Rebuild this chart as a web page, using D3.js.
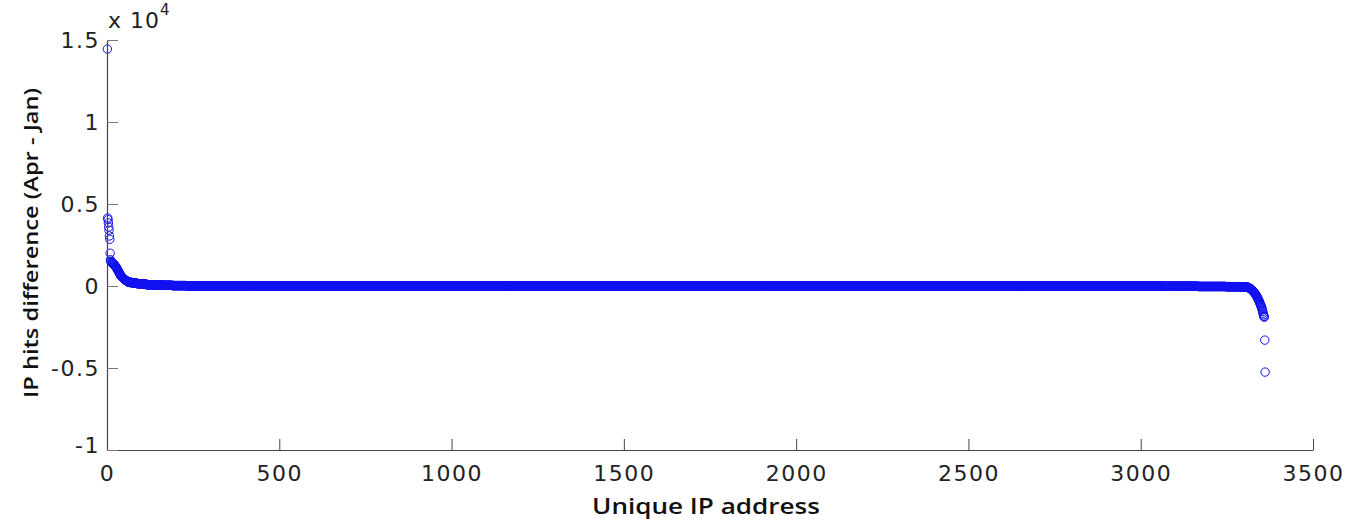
<!DOCTYPE html>
<html>
<head>
<meta charset="utf-8">
<script src="https://cdn.jsdelivr.net/npm/d3@7"></script>
<style>
  html, body { margin: 0; padding: 0; background: #fff; }
  svg { display: block; }
  .tick text { font-family: "DejaVu Sans", sans-serif; }
</style>
</head>
<body>
<svg id="chart" width="1363" height="528"></svg>
<script>
// ---- data ----
// first points, sorted descending (hits difference)
const headValues = [
  14450, 4150, 4050, 3850, 3600, 3400, 3050, 2850, 2000, 1600,
  1500, 1480, 1460, 1440, 1420, 1400, 1380, 1360, 1340, 1320,
  1300, 1280, 1250, 1220, 1190, 1160, 1130, 1100, 1060, 1020,
  980, 940, 900, 860, 820, 780, 740, 700, 670, 640,
  610, 580, 560, 540, 520, 500, 480, 460, 440, 420,
  400, 385, 370, 355, 340, 325, 310, 295, 280, 265, 250
];
// long flat middle part, as [value, number of IPs]
const midRuns = [
  [230, 8], [200, 8], [170, 10], [140, 12], [110, 15], [80, 20],
  [60, 25], [40, 30], [25, 40], [10, 100], [5, 200], [0, 1637],
  [-5, 600], [-10, 300], [-20, 100], [-30, 80], [-40, 40], [-50, 20]
];
// last points, sorted descending
const tailValues = [
  -60, -65, -70, -75, -80, -90, -100, -110, -120, -130,
  -145, -160, -180, -200, -220, -240, -260, -280, -300, -320,
  -340, -360, -385, -410, -440, -470, -500, -530, -560, -600,
  -640, -680, -720, -760, -800, -850, -900, -950, -1000, -1050,
  -1100, -1150, -1200, -1260, -1320, -1400, -1460, -1550, -1650, -1750,
  -1830, -1870, -1900, -3300, -5250
];
const xTicks = [0, 500, 1000, 1500, 2000, 2500, 3000, 3500];
const yTicks = [-10000, -5000, 0, 5000, 10000, 15000];
const yTickLabels = ["-1", "-0.5", "0", "0.5", "1", "1.5"];
const xLabel = "Unique IP address";
const yLabel = "IP hits difference (Apr - Jan)";

// assemble series
const values = headValues.slice();
midRuns.forEach(([v, n]) => { for (let k = 0; k < n; k++) values.push(v); });
tailValues.forEach(v => values.push(v));
const points = values.map((v, i) => ({ x: i + 1, y: v }));

// ---- drawing ----
const svg = d3.select("#chart");
const x = d3.scaleLinear().domain([0, 3500]).range([107, 1313]);
const y = d3.scaleLinear().domain([-10000, 15000]).range([450, 40]);

// points
svg.append("g")
  .selectAll("circle")
  .data(points)
  .enter().append("circle")
  .attr("cx", d => x(d.x))
  .attr("cy", d => y(d.y))
  .attr("r", 4.2)
  .attr("fill", "none")
  .attr("stroke", "#1010f0")
  .attr("stroke-width", 1);

// x axis
const xAxis = d3.axisBottom(x).tickValues(xTicks).tickSizeInner(-11).tickSizeOuter(0).tickPadding(15)
  .tickFormat(d3.format("d"));
const gx = svg.append("g").attr("transform", "translate(0,450)").call(xAxis);
gx.select(".domain").attr("stroke", "#444").attr("stroke-width", 1.2);
gx.selectAll(".tick line").attr("stroke", "#444");
gx.selectAll(".tick text").attr("font-size", 22).attr("fill", "#222")
  .attr("letter-spacing", 1.5).attr("dy", "0.71em");

// y axis
const yAxis = d3.axisLeft(y).tickValues(yTicks).tickSizeInner(-11).tickSizeOuter(0).tickPadding(7)
  .tickFormat((d, i) => yTickLabels[i]);
const gy = svg.append("g").attr("transform", "translate(107,0)").call(yAxis);
gy.select(".domain").attr("stroke", "#444").attr("stroke-width", 1.2);
gy.selectAll(".tick line").attr("stroke", "#777");
gy.selectAll(".tick text").attr("font-size", 22).attr("fill", "#222").attr("letter-spacing", 1.5);
// -1 label sits slightly higher like the reference
gy.selectAll(".tick text").filter((d) => d === -10000).attr("dy", "0.1em");

// exponent
const ex = svg.append("text").attr("x", 108).attr("y", 28)
  .attr("font-family", "DejaVu Sans, sans-serif").attr("font-size", 22).attr("fill", "#222")
  .attr("letter-spacing", 1);
ex.append("tspan").text("x 10");
ex.append("tspan").attr("dy", -13).attr("font-size", 15).text("4");

// axis labels
svg.append("text").attr("x", 706).attr("y", 514).attr("text-anchor", "middle")
  .attr("font-family", "Open Sans, sans-serif").attr("font-weight", 600).attr("font-size", 21)
  .attr("fill", "#111").attr("textLength", 228).attr("lengthAdjust", "spacingAndGlyphs")
  .text(xLabel);
svg.append("text").attr("transform", "translate(38,243) rotate(-90)").attr("text-anchor", "middle")
  .attr("font-family", "Open Sans, sans-serif").attr("font-weight", 600).attr("font-size", 20)
  .attr("fill", "#111").attr("textLength", 310).attr("lengthAdjust", "spacingAndGlyphs")
  .text(yLabel);
</script>
</body>
</html>
